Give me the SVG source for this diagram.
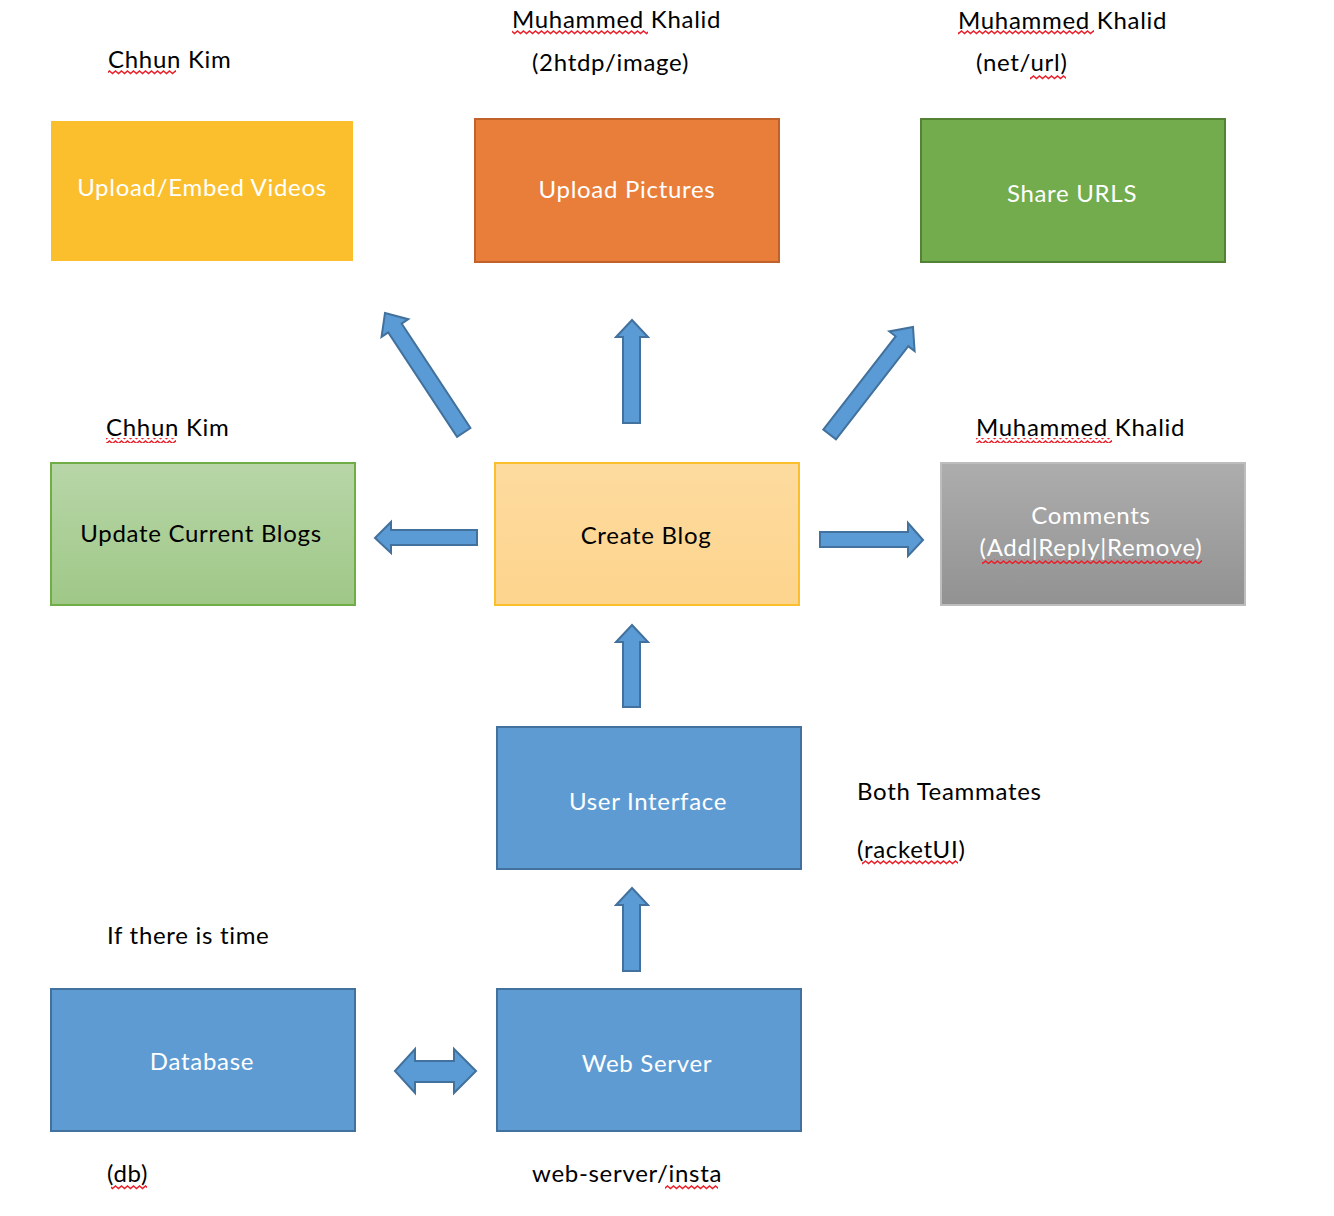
<svg xmlns="http://www.w3.org/2000/svg" width="1334" height="1216" viewBox="0 0 1334 1216">
<style>
text{font-family:Lato,"Open Sans","Liberation Sans",sans-serif;font-size:24px;letter-spacing:0.7px}
.lbl{fill:#000}
.w{fill:#fff;text-anchor:middle}
.b{fill:#000;text-anchor:middle}
.arr{fill:#5B9BD5;stroke:#41719C;stroke-width:2;stroke-linejoin:miter}
.box{stroke-width:2}
</style>
<defs>
<linearGradient id="gGreen" x1="0" y1="0" x2="0" y2="1"><stop offset="0" stop-color="#B8D6A8"/><stop offset="1" stop-color="#9FC887"/></linearGradient>
<linearGradient id="gYel" x1="0" y1="0" x2="0" y2="1"><stop offset="0" stop-color="#FDDB9F"/><stop offset="1" stop-color="#FDD48D"/></linearGradient>
<linearGradient id="gGray" x1="0" y1="0" x2="0" y2="1"><stop offset="0" stop-color="#ADADAD"/><stop offset="1" stop-color="#929292"/></linearGradient>
<pattern id="sq" x="0" y="0" width="6" height="5" patternUnits="userSpaceOnUse"><path d="M-1.5,3.5 L1.5,1 L4.5,3.5 L7.5,1" fill="none" stroke="#E8202A" stroke-width="1.4"/></pattern>
</defs>
<rect width="1334" height="1216" fill="#fff"/>

<g id="labels">
<text class="lbl" x="108" y="68">Chhun Kim</text>
<text class="lbl" x="512" y="28">Muhammed Khalid</text>
<text class="lbl" x="532" y="71">(2htdp/image)</text>
<text class="lbl" x="958" y="29">Muhammed Khalid</text>
<text class="lbl" x="976" y="71">(net/url)</text>
<text class="lbl" x="106" y="436">Chhun Kim</text>
<text class="lbl" x="976" y="436">Muhammed Khalid</text>
<text class="lbl" x="857" y="800">Both Teammates</text>
<text class="lbl" x="857" y="858">(racketUI)</text>
<text class="lbl" x="107" y="944">If there is time</text>
<text class="lbl" x="107" y="1182">(db)</text>
<text class="lbl" x="532" y="1182">web-server/insta</text>
</g>

<g id="node-videos"><rect class="box" x="52" y="122" width="300" height="138" fill="#FBBF2E" stroke="#FBBF2E"/><text class="w" x="202" y="196">Upload/Embed Videos</text></g>
<g id="node-pictures"><rect class="box" x="475" y="119" width="304" height="143" fill="#E97E3B" stroke="#C0622A"/><text class="w" x="627" y="198">Upload Pictures</text></g>
<g id="node-urls"><rect class="box" x="921" y="119" width="304" height="143" fill="#72AC4D" stroke="#548235"/><text class="w" x="1072" y="202">Share URLS</text></g>
<g id="node-update"><rect class="box" x="51" y="463" width="304" height="142" fill="url(#gGreen)" stroke="#70AD47"/><text class="b" x="201" y="542">Update Current Blogs</text></g>
<g id="node-create"><rect class="box" x="495" y="463" width="304" height="142" fill="url(#gYel)" stroke="#FBBF2E"/><text class="b" x="646" y="544">Create Blog</text></g>
<g id="node-comments"><rect class="box" x="941" y="463" width="304" height="142" fill="url(#gGray)" stroke="#BDBDBD"/><text class="w" x="1091" y="524">Comments</text><text class="w" x="1091" y="556">(Add|Reply|Remove)</text></g>
<g id="node-ui"><rect class="box" x="497" y="727" width="304" height="142" fill="#5E9BD3" stroke="#41719C"/><text class="w" x="648" y="810">User Interface</text></g>
<g id="node-db"><rect class="box" x="51" y="989" width="304" height="142" fill="#5E9BD3" stroke="#41719C"/><text class="w" x="202" y="1070">Database</text></g>
<g id="node-web"><rect class="box" x="497" y="989" width="304" height="142" fill="#5E9BD3" stroke="#41719C"/><text class="w" x="647" y="1072">Web Server</text></g>

<g id="connectors">
<path class="arr" d="M632,320 L648,337 L640,337 L640,423 L623,423 L623,337 L616,337 Z"/>
<path class="arr" d="M632,625 L648,642 L640,642 L640,707 L623,707 L623,642 L616,642 Z"/>
<path class="arr" d="M632,888 L648,905 L640,905 L640,971 L623,971 L623,905 L616,905 Z"/>
<path class="arr" d="M375,538 L391,522 L391,530 L477,530 L477,545 L391,545 L391,553 Z"/>
<path class="arr" d="M923,540 L908,523 L908,532 L820,532 L820,547 L908,547 L908,556 Z"/>
<path class="arr" d="M395,1071 L415,1049 L415,1061 L454,1061 L454,1049 L476,1071 L454,1093 L454,1082 L415,1082 L415,1093 Z"/>
<path class="arr" transform="translate(385,313) rotate(-33.4)" d="M0,0 L16,18 L8,18 L8,143 L-8,143 L-8,18 L-16,18 Z"/>
<path class="arr" transform="translate(913,327) rotate(37.8)" d="M0,0 L16,18 L8,18 L8,136 L-8,136 L-8,18 L-16,18 Z"/>
</g>

<g id="spellcheck">
<rect x="108" y="70" width="68" height="5" fill="url(#sq)"/>
<rect x="512" y="30" width="136" height="5" fill="url(#sq)"/>
<rect x="958" y="30" width="136" height="5" fill="url(#sq)"/>
<rect x="1030" y="75" width="36" height="5" fill="url(#sq)"/>
<rect x="106" y="438" width="70" height="5" fill="url(#sq)"/>
<rect x="976" y="438" width="136" height="5" fill="url(#sq)"/>
<rect x="862" y="860" width="96" height="5" fill="url(#sq)"/>
<rect x="111" y="1185" width="36" height="5" fill="url(#sq)"/>
<rect x="665" y="1185" width="53" height="5" fill="url(#sq)"/>
<rect x="982" y="559" width="220" height="5" fill="url(#sq)"/>
</g>
</svg>
